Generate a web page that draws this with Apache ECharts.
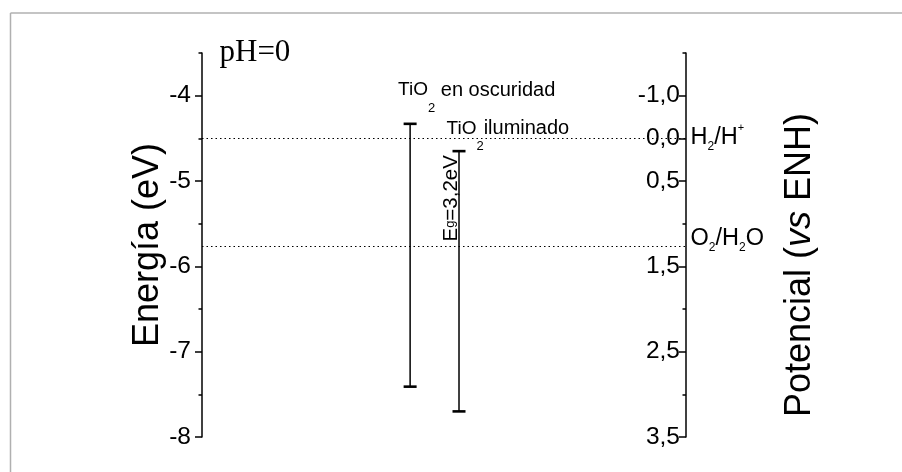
<!DOCTYPE html>
<html>
<head>
<meta charset="utf-8">
<script src="https://cdn.jsdelivr.net/npm/echarts@6/dist/echarts.min.js"></script>
<style>
  html, body { margin: 0; padding: 0; background: #fff; }
  #chart { width: 902px; height: 472px; }
</style>
</head>
<body>
<div id="chart"></div>
<script>
  // band edges (energy in eV vs vacuum)
  const bandNames = ['{t|TiO}{s|2}{b| en oscuridad}', '{t|TiO}{s|2}{b|iluminado}'];
  const bandX = [43, 53.1];
  const bandTop = [-4.33, -4.65];
  const bandBottom = [-7.41, -7.7];
  const gapTexts = ['', 'E{g|g}=3,2eV'];

  // redox levels
  const refLevels = [-4.5, -5.76];
  const refLabels = ['{a|H}{s|2}{a|/H}{p|+}', '{a|O}{s|2}{a|/H}{s|2}{a|O}'];

  // axis ticks
  const leftTicks = [-8, -7, -6, -5, -4];
  const leftMinorTicks = [-7.5, -6.5, -5.5, -4.5, -3.5];
  const rightTicks = [-0.5, 0, 0.5, 1.5, 2.5, 3.5];
  const rightTickLabels = ['-1,0', '0,0', '0,5', '1,5', '2,5', '3,5'];
  const rightMinorTicks = [-1, 1, 2, 3];

  const SANS = '"Liberation Sans", Arial, sans-serif';
  const SERIF = '"Liberation Serif", "Times New Roman", serif';

  // text offsets (px) from the top of each band line
  const nameOffsets = [[-12, -43.3], [-12.5, -32.3]];
  const gapOffset = [2.4, 90.4];

  const chart = echarts.init(document.getElementById('chart'));

  const tickStyle = { color: '#000', width: 1.5 };

  const renderBand = function (params, api) {
    const i = params.dataIndex;
    const top = api.coord([api.value(0), api.value(2)]);
    const bot = api.coord([api.value(0), api.value(1)]);
    const capW = 13;
    const capH = 2.6;
    const children = [
      {
        type: 'line',
        shape: { x1: top[0], y1: top[1], x2: bot[0], y2: bot[1] },
        style: { stroke: '#000', lineWidth: 1.5 },
      },
      {
        type: 'rect',
        shape: { x: top[0] - capW / 2, y: top[1] - capH / 2, width: capW, height: capH },
        style: { fill: '#000' },
      },
      {
        type: 'rect',
        shape: { x: bot[0] - capW / 2, y: bot[1] - capH / 2, width: capW, height: capH },
        style: { fill: '#000' },
      },
      {
        type: 'text',
        x: top[0] + nameOffsets[i][0],
        y: top[1] + nameOffsets[i][1],
        style: {
          text: bandNames[i],
          align: 'left',
          verticalAlign: 'top',
          fontSize: 19,
          fontFamily: SANS,
          fill: '#000',
          rich: {
            t: { fontSize: 19, fontFamily: SANS, fill: '#000', verticalAlign: 'top' },
            s: { fontSize: 13, fontFamily: SANS, fill: '#000', verticalAlign: 'bottom', lineHeight: 34.5 },
            b: { fontSize: 20, fontFamily: SANS, fill: '#000', verticalAlign: 'top' },
          },
        },
      },
    ];
    if (gapTexts[i]) {
      children.push({
        type: 'text',
        x: top[0] + gapOffset[0],
        y: top[1] + gapOffset[1],
        rotation: Math.PI / 2,
        style: {
          text: gapTexts[i],
          align: 'left',
          verticalAlign: 'bottom',
          fontSize: 20.5,
          fontFamily: SANS,
          fill: '#000',
          rich: {
            g: { fontSize: 13, fontFamily: SANS, fill: '#000', verticalAlign: 'middle' },
          },
        },
      });
    }
    return { type: 'group', children: children };
  };

  const refRich = {
    a: { fontSize: 23.5, fontFamily: SANS, color: '#000', lineHeight: 30, verticalAlign: 'middle' },
    s: { fontSize: 12, fontFamily: SANS, color: '#000', lineHeight: 12, verticalAlign: 'bottom' },
    p: { fontSize: 11, fontFamily: SANS, color: '#000', lineHeight: 14, verticalAlign: 'top' },
  };
  const refPadding = [[0, 0, 1, 0], [0, 0, 14, 0]];

  chart.setOption({
    animation: false,
    backgroundColor: '#fff',
    grid: { left: 202, right: 216, top: 53, bottom: 35, containLabel: false, outerBoundsMode: 'none' },
    xAxis: { type: 'value', min: 0, max: 100, show: false },
    yAxis: [
      {
        type: 'value',
        position: 'left',
        min: -8,
        max: -3.5,
        name: 'Energía (eV)',
        nameLocation: 'middle',
        nameGap: 36,
        nameRotate: 90,
        nameMoveOverlap: false,
        nameTextStyle: { fontSize: 36, fontFamily: SANS, color: '#000' },
        axisLine: { show: true, onZero: false, lineStyle: tickStyle },
        axisTick: { show: true, customValues: leftTicks, length: 7, lineStyle: tickStyle },
        axisLabel: { customValues: leftTicks, margin: 11, fontSize: 24.5, fontFamily: SANS, color: '#000' },
        splitLine: { show: false },
      },
      {
        type: 'value',
        position: 'left',
        min: -8,
        max: -3.5,
        axisLine: { show: false, onZero: false },
        axisTick: { show: true, customValues: leftMinorTicks, length: 3.5, lineStyle: tickStyle },
        axisLabel: { show: false },
        splitLine: { show: false },
      },
      {
        type: 'value',
        position: 'right',
        min: -1,
        max: 3.5,
        inverse: true,
        name: 'Potencial ({i|vs} ENH)',
        nameLocation: 'middle',
        nameGap: 96,
        nameRotate: 90,
        nameMoveOverlap: false,
        nameTextStyle: {
          fontSize: 36,
          fontFamily: SANS,
          color: '#000',
          padding: [0, 40, 0, 0],
          rich: { i: { fontSize: 36, fontFamily: SANS, color: '#000', fontStyle: 'italic' } },
        },
        axisLine: { show: true, onZero: false, lineStyle: tickStyle },
        axisTick: { show: true, inside: true, customValues: rightTicks, length: 7, lineStyle: tickStyle },
        axisLabel: {
          inside: true,
          customValues: rightTicks,
          margin: 6,
          fontSize: 24.5,
          fontFamily: SANS,
          color: '#000',
          formatter: function (v) {
            return rightTickLabels[rightTicks.indexOf(v)];
          },
        },
        splitLine: { show: false },
      },
      {
        type: 'value',
        position: 'right',
        min: -1,
        max: 3.5,
        inverse: true,
        axisLine: { show: false, onZero: false },
        axisTick: { show: true, inside: true, customValues: rightMinorTicks, length: 3.5, lineStyle: tickStyle },
        axisLabel: { show: false },
        splitLine: { show: false },
      },
    ],
    series: [
      {
        type: 'custom',
        name: 'bandas',
        xAxisIndex: 0,
        yAxisIndex: 0,
        renderItem: renderBand,
        data: bandX.map((x, i) => [x, bandBottom[i], bandTop[i]]),
        silent: true,
      },
      {
        type: 'line',
        name: 'redox',
        xAxisIndex: 0,
        yAxisIndex: 0,
        data: [],
        markLine: {
          silent: true,
          symbol: ['none', 'none'],
          lineStyle: { color: '#000', type: [1.5, 3], width: 1.2 },
          data: refLevels.map((v, i) => ({
            yAxis: v,
            label: {
              show: true,
              position: 'end',
              distance: 4.5,
              formatter: refLabels[i],
              padding: refPadding[i],
              rich: refRich,
            },
          })),
        },
      },
    ],
    graphic: [
      { type: 'line', shape: { x1: 10.5, y1: 13, x2: 902, y2: 13 }, style: { stroke: '#b0b0b0', lineWidth: 1.5 } },
      { type: 'line', shape: { x1: 10.5, y1: 13, x2: 10.5, y2: 472 }, style: { stroke: '#b0b0b0', lineWidth: 1.5 } },
      {
        type: 'text',
        x: 219.5,
        y: 53,
        style: { text: 'pH=0', fontSize: 31, fontFamily: SERIF, fill: '#000', verticalAlign: 'middle' },
      },
    ],
  });
</script>
</body>
</html>
